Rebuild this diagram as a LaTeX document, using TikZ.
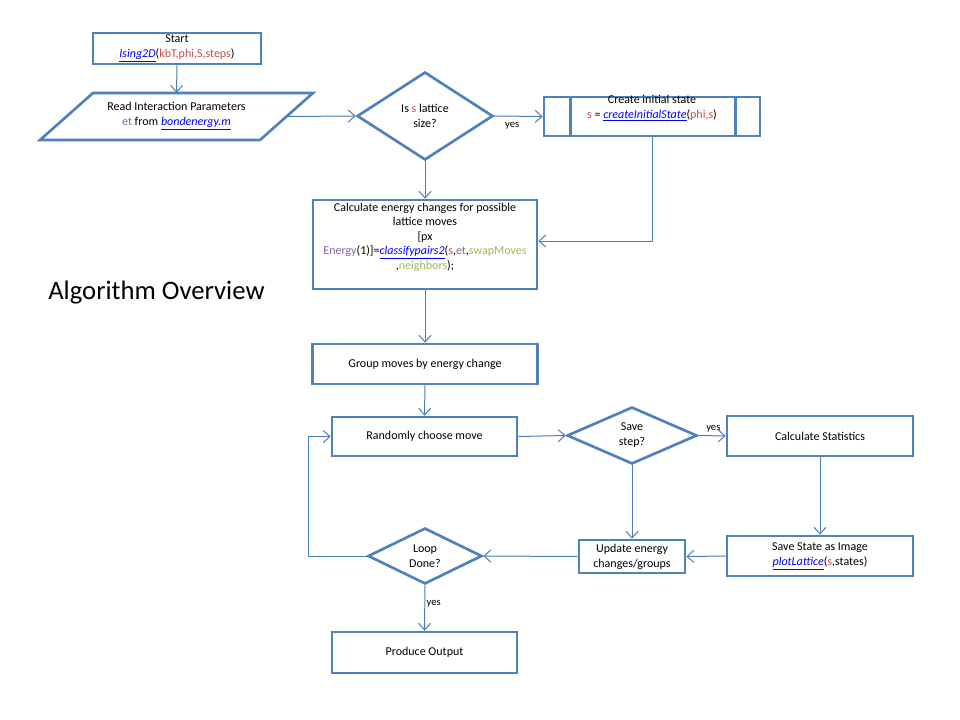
\documentclass[tikz,border=0pt]{standalone}
\usepackage{fontspec}
\setmainfont{Carlito}
\usetikzlibrary{shapes.geometric,arrows.meta,calc}
\definecolor{boxblue}{HTML}{4F81BD}
\definecolor{lineblue}{HTML}{4A7EBB}
\definecolor{argred}{HTML}{C0504D}
\definecolor{purp}{HTML}{8064A2}
\definecolor{grn}{HTML}{9BBB59}
\definecolor{linkblue}{HTML}{0000FF}
\newcommand{\lnk}[1]{\textcolor{linkblue}{\underline{\textit{#1}}}}
\newcommand{\rd}[1]{\textcolor{argred}{#1}}
\begin{document}
\begin{tikzpicture}[x=0.75pt,y=-0.75pt,
  every node/.style={font=\fontsize{9pt}{11.25pt}\selectfont, align=center, inner sep=0pt},
  procbox/.style={draw=boxblue, line width=2pt, rectangle, fill=white},
  decbox/.style={draw=boxblue, line width=2pt, diamond, fill=white},
  conn/.style={draw=lineblue, line width=0.75pt, -{Straight Barb[length=5pt,width=9pt]}},
  plainconn/.style={draw=lineblue, line width=0.75pt},
  yeslbl/.style={font=\fontsize{8pt}{9pt}\selectfont}
]
\useasboundingbox (0,0) rectangle (960,720);
\fill[white] (0,0) rectangle (960,720);

% nodes
\node[procbox, minimum width=126pt, minimum height=23.25pt] (start) at (177,48.5)
  {Start\\ \lnk{Ising2D}(\rd{kbT,phi,S,steps})};

\node[minimum width=165pt, minimum height=35.25pt] (read) at (176.5,116.5)
  {Read Interaction Parameters\\ \textcolor{purp}{et} from \lnk{bondenergy.m}};
\draw[draw=boxblue, line width=2pt, line join=miter]
  ($(read.center)+(-83.5,-23.5)$) -- ($(read.center)+(136.5,-23.5)$)
  -- ($(read.center)+(83.5,23.5)$) -- ($(read.center)+(-136.5,23.5)$) -- cycle;

\node[decbox, minimum width=102pt, minimum height=66pt] (dia1) at (425,116)
  {Is \rd{s} lattice\\ size?};

\node[procbox, minimum width=162pt, minimum height=29.25pt,
  label={[yshift=6pt, align=center]center:{Create initial state\\ \rd{s} = \lnk{createInitialState}(\rd{phi,s})}}] (init) at (652,116.5) {};
\draw[draw=boxblue, line width=2pt] ($(init.north west)+(28,0)$) -- ($(init.south west)+(28,0)$);
\draw[draw=boxblue, line width=2pt] ($(init.north east)+(-26,0)$) -- ($(init.south east)+(-26,0)$);

\node[procbox, minimum width=168pt, minimum height=66.75pt,
  label={[yshift=5.6pt, align=center, font=\fontsize{9pt}{10.9pt}\selectfont]center:{Calculate energy changes for possible\\ lattice moves\\ {[}px\\ \textcolor{purp}{Energy}(1)]=\lnk{classifypairs2}(\rd{s},\textcolor{purp}{et},\textcolor{grn}{swapMoves}\\ ,\textcolor{grn}{neighbors});}}] (calc) at (425,244.5) {};

\node[anchor=west, font=\fontsize{20pt}{24pt}\selectfont] (title) at (48,293) {Algorithm Overview};

\node[procbox, minimum width=168.75pt, minimum height=30pt] (group) at (425,364)
  {Group moves by energy change};

\node[procbox, minimum width=138.75pt, minimum height=29.25pt] (rand) at (424.5,436.5)
  {Randomly choose move};

\node[decbox, minimum width=97.5pt, minimum height=42.75pt] (save) at (632,435.5)
  {Save\\ step?};

\node[procbox, minimum width=139.5pt, minimum height=30pt] (stats) at (820,436)
  {Calculate Statistics};

\node[procbox, minimum width=139.5pt, minimum height=30pt] (state) at (820,556)
  {Save State as Image\\ \lnk{plotLattice}(\rd{s},states)};

\node[procbox, minimum width=79.5pt, minimum height=24.75pt] (update) at (632,556.5)
  {Update energy\\ changes/groups};

\node[decbox, minimum width=85.5pt, minimum height=42pt] (loop) at (425,556)
  {Loop\\ Done?};

\node[procbox, minimum width=138.75pt, minimum height=30.75pt] (output) at (424.5,652.5)
  {Produce Output};

\coordinate (lp) at (308,556);

% connectors
\draw[conn] (start.south) -- (read.north);
\draw[conn] (read.east) -- (dia1.west);
\draw[conn] (dia1.east) -- node[yeslbl, pos=0.37, below=4pt] (yes1) {yes} (init.west);
\draw[conn] (dia1.south) -- (calc.north);
\draw[conn] (init.south) |- ([yshift=2.6pt]calc.east);
\draw[conn] (calc.south) -- (group.north);
\draw[conn] (group.south) -- (rand.north);
\draw[conn] (rand.east) -- (save.west);
\draw[conn] (save.east) -- node[yeslbl, pos=0.55, above=2pt] (yes2) {yes} (stats.west);
\draw[conn] (stats.south) -- (state.north);
\draw[conn] (save.south) -- (update.north);
\draw[conn] (state.west) -- (update.east);
\draw[conn] (update.west) -- (loop.east);
\draw[conn] (loop.west) -- (lp) |- (rand.west);
\draw[conn] (loop.south) -- node[yeslbl, pos=0.4, right=1pt] (yes3) {yes} (output.north);
\end{tikzpicture}
\end{document}
